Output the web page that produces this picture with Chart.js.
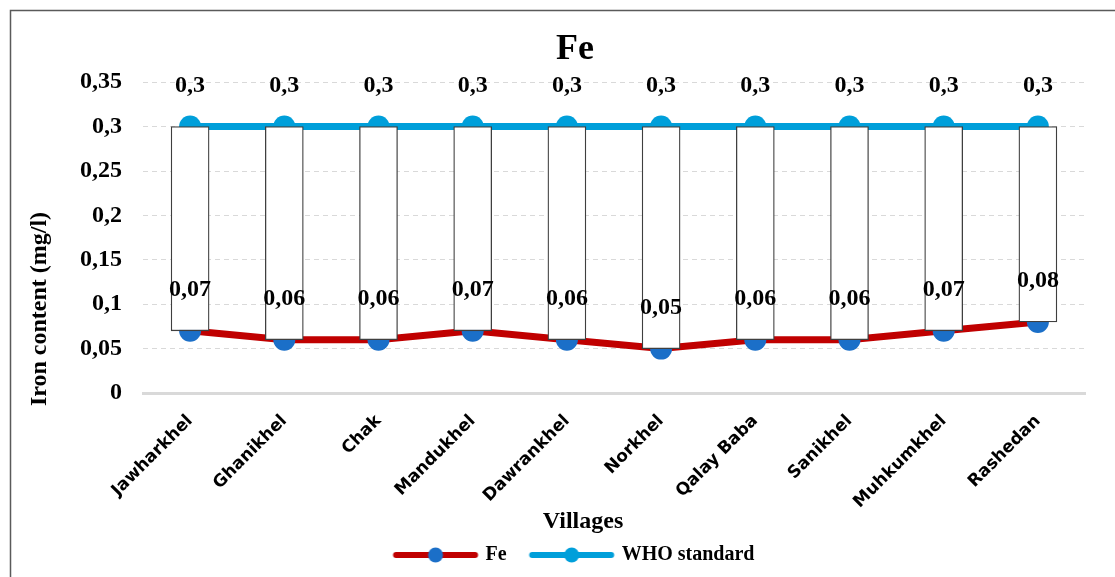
<!DOCTYPE html>
<html>
<head>
<meta charset="utf-8">
<script src="https://cdn.jsdelivr.net/npm/chart.js@4.4.1/dist/chart.umd.min.js"></script>
<style>
  html, body { margin: 0; padding: 0; background: #ffffff; }
  #wrap { width: 1115px; height: 577px; position: relative; }
</style>
</head>
<body>
<div id="wrap"><canvas id="chart" width="1115" height="577"></canvas></div>
<script>
// Villages sampled
const villages = ['Jawharkhel', 'Ghanikhel', 'Chak', 'Mandukhel', 'Dawrankhel',
                  'Norkhel', 'Qalay Baba', 'Sanikhel', 'Muhkumkhel', 'Rashedan'];
// Measured iron content (mg/l)
const feValues = [0.07, 0.06, 0.06, 0.07, 0.06, 0.05, 0.06, 0.06, 0.07, 0.08];
// WHO guideline value (mg/l)
const whoValues = [0.3, 0.3, 0.3, 0.3, 0.3, 0.3, 0.3, 0.3, 0.3, 0.3];
// Y axis range and step
const yMin = 0, yMax = 0.35, yStep = 0.05;
// Axis titles
const xTitle = 'Villages';
const yTitle = 'Iron content (mg/l)';

const SERIF = "'Liberation Serif', 'Times New Roman', serif";
const FE_LINE = '#C00000', FE_DOT = '#1B6FC8';
const WHO_LINE = '#009FDA', WHO_DOT = '#009FDA';

const fmt = v => String(Math.round(v * 100) / 100).replace('.', ',');

// legend swatch: line with a dot in the middle
function swatch(lineColor, dotColor) {
  const c = document.createElement('canvas');
  c.width = 88; c.height = 18;
  const g = c.getContext('2d');
  g.strokeStyle = lineColor; g.lineWidth = 6; g.lineCap = 'round';
  g.beginPath(); g.moveTo(4.5, 9); g.lineTo(83.5, 9); g.stroke();
  g.fillStyle = dotColor;
  g.beginPath(); g.arc(44, 9, 7.5, 0, Math.PI * 2); g.fill();
  return c;
}

// frame around the chart (left and top edges are visible)
const framePlugin = {
  id: 'frame',
  beforeDraw(chart) {
    const ctx = chart.ctx;
    ctx.save();
    ctx.fillStyle = '#ffffff';
    ctx.fillRect(0, 0, chart.width, chart.height);
    ctx.strokeStyle = '#5a5a5a';
    ctx.lineWidth = 1.5;
    ctx.strokeRect(10.5, 10.5, chart.width + 20, chart.height + 20);
    ctx.restore();
  }
};

// axis titles, placed relative to the plot area
const axisTitles = {
  id: 'axisTitles',
  afterDraw(chart) {
    const ctx = chart.ctx, a = chart.chartArea;
    ctx.save();
    ctx.fillStyle = '#000000';
    ctx.textAlign = 'center';
    ctx.textBaseline = 'middle';
    ctx.font = 'bold 24px ' + SERIF;
    ctx.fillText(xTitle, a.left + 440, a.bottom + 129);
    ctx.translate(40, a.bottom - 84);
    ctx.rotate(-Math.PI / 2);
    ctx.fillText(yTitle, 0, 0);
    ctx.restore();
  }
};

// value labels above the line markers
const valueLabels = {
  id: 'valueLabels',
  afterDatasetsDraw(chart) {
    const ctx = chart.ctx;
    ctx.save();
    ctx.font = 'bold 24px ' + SERIF;
    ctx.fillStyle = '#000000';
    ctx.textAlign = 'center';
    ctx.textBaseline = 'middle';
    [0, 1].forEach(di => {
      const meta = chart.getDatasetMeta(di);
      const data = chart.data.datasets[di].data;
      meta.data.forEach((pt, i) => {
        ctx.fillText(fmt(data[i]), pt.x, pt.y - 41);
      });
    });
    ctx.restore();
  }
};

new Chart(document.getElementById('chart'), {
  data: {
    labels: villages,
    datasets: [
      {
        type: 'line', label: 'Fe', data: feValues, order: 1,
        borderColor: FE_LINE, borderWidth: 7, backgroundColor: FE_DOT,
        pointBackgroundColor: FE_DOT, pointBorderWidth: 0, pointRadius: 11,
        pointStyle: 'circle', tension: 0
      },
      {
        type: 'line', label: 'WHO standard', data: whoValues, order: 2,
        borderColor: WHO_LINE, borderWidth: 7, backgroundColor: WHO_DOT,
        pointBackgroundColor: WHO_DOT, pointBorderWidth: 0, pointRadius: 11,
        pointStyle: 'circle', tension: 0
      },
      {
        type: 'bar', label: 'range', order: 0,
        data: whoValues.map((w, i) => [feValues[i], w]),
        backgroundColor: '#ffffff', borderColor: '#3f3f3f', borderWidth: 1.3,
        borderSkipped: false, barThickness: 38
      }
    ]
  },
  options: {
    responsive: false,
    animation: false,
    layout: { padding: { top: 28, left: 65, right: 30, bottom: 2 } },
    plugins: {
      title: {
        display: true, text: 'Fe', color: '#000000',
        font: { family: SERIF, size: 36, weight: 'bold' },
        padding: { top: 0, bottom: 11 }
      },
      legend: {
        position: 'bottom',
        labels: {
          color: '#000000',
          font: { family: SERIF, size: 20, weight: 'bold' },
          usePointStyle: true,
          pointStyleWidth: 80,
          padding: 25,
          generateLabels(chart) {
            return [
              { text: 'Fe', datasetIndex: 0, pointStyle: swatch(FE_LINE, FE_DOT),
                fillStyle: FE_LINE, strokeStyle: FE_LINE, lineWidth: 0, fontColor: '#000' },
              { text: 'WHO standard', datasetIndex: 1, pointStyle: swatch(WHO_LINE, WHO_DOT),
                fillStyle: WHO_LINE, strokeStyle: WHO_LINE, lineWidth: 0, fontColor: '#000' }
            ];
          }
        }
      },
      tooltip: { enabled: false }
    },
    scales: {
      x: {
        offset: true,
        grid: { display: false },
        border: { display: true, color: '#d9d9d9', width: 3 },
        ticks: {
          color: '#000000', maxRotation: 45, minRotation: 45, padding: 10,
          font: { family: "'DejaVu Sans', sans-serif", size: 17, weight: 'bold' }
        },
        afterFit(scale) { scale.height = 127; }
      },
      y: {
        min: yMin, max: yMax,
        border: { display: false, dash: [5, 4] },
        grid: {
          drawTicks: false,
          color: ctx => (ctx.tick && ctx.tick.value === 0) ? 'rgba(0,0,0,0)' : '#d9d9d9',
          lineWidth: 1
        },
        ticks: {
          stepSize: yStep, color: '#000000', padding: 21,
          font: { family: SERIF, size: 24, weight: 'bold' },
          callback: v => fmt(v)
        },
        afterFit(scale) { scale.width = 78; }
      }
    }
  },
  plugins: [framePlugin, axisTitles, valueLabels]
});
</script>
</body>
</html>
